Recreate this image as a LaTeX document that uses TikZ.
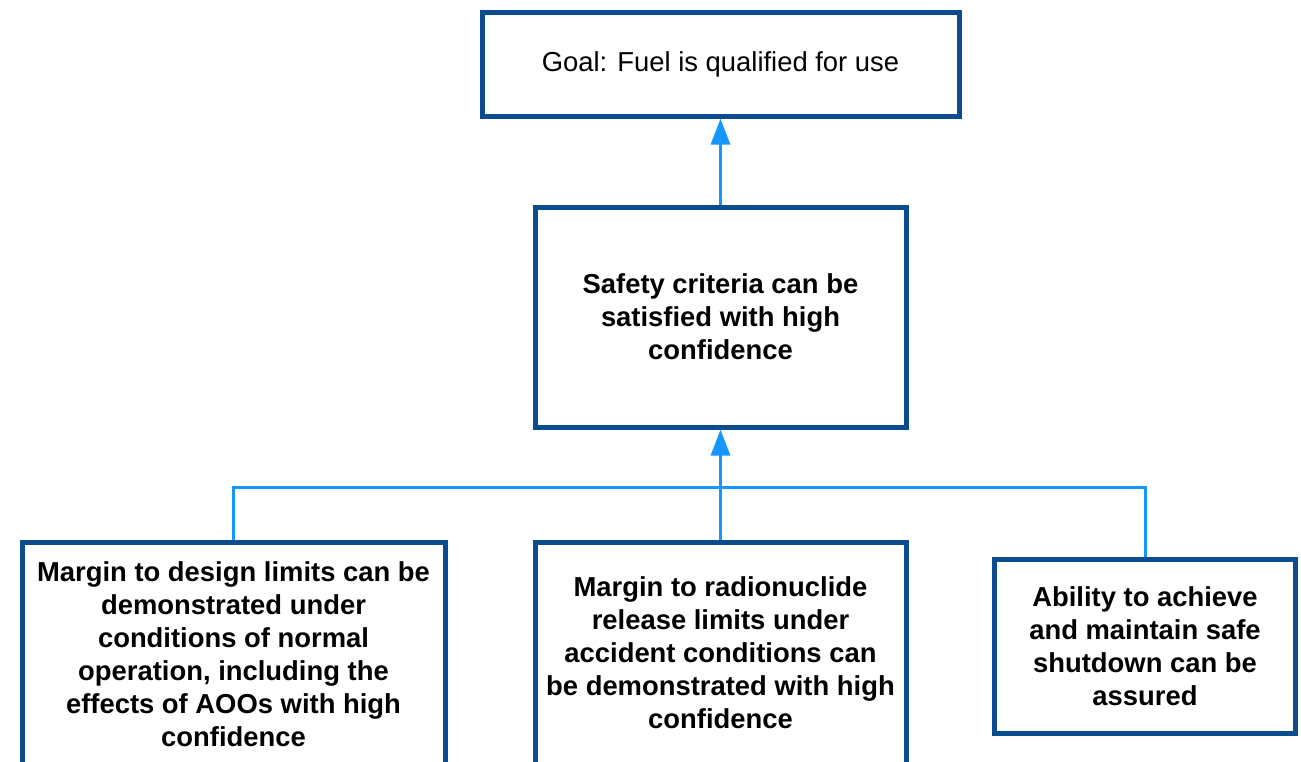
\documentclass[tikz,border=0pt]{standalone}
\usepackage{fontspec}
\setmainfont{Liberation Sans}
\usetikzlibrary{arrows.meta}
\definecolor{boxline}{RGB}{10,76,142}
\definecolor{linkline}{RGB}{22,150,255}

\begin{document}
\begin{tikzpicture}[x=1pt, y=-1pt]
            \tikzstyle{every node} = [align=center, inner sep=0pt, font=\fontsize{27.4}{33}\selectfont]
            \tikzstyle{claimbox} = [draw=boxline, line width=5pt, fill=white, rectangle]
            \tikzstyle{link} = [draw=linkline, line width=3pt]
            \tikzstyle{uplink} = [link, -{Triangle[length=26pt, width=19pt]}, linkline]

            \useasboundingbox[fill=white] (0, 0) rectangle (1301, 761);
            \clip (0, 0) rectangle (1301, 761);

            % top goal
            \node[claimbox, minimum width=477pt, minimum height=104pt] (goal) at (720.5, 64)
                {Goal: Fuel is qualified for use};
            \node[claimbox, minimum width=371pt, minimum height=220pt, font=\fontsize{27.4}{33}\selectfont\bfseries] (safety) at (720.5, 317)
                {Safety criteria can be\\ satisfied with high\\ confidence};

            % the three sub claims
            \node[claimbox, minimum width=423pt, minimum height=224pt, font=\fontsize{27.4}{33}\selectfont\bfseries] (design) at (233.5, 654)
                {Margin to design limits can be\\ demonstrated under\\ conditions of normal\\ operation, including the\\ effects of AOOs with high\\ confidence};
            \node[claimbox, minimum width=371pt, minimum height=222pt, font=\fontsize{27.4}{33}\selectfont\bfseries] (release) at (720.5, 653)
                {Margin to radionuclide\\ release limits under\\ accident conditions can\\ be demonstrated with high\\ confidence};
            \node[claimbox, minimum width=301pt, minimum height=174pt, font=\fontsize{27.4}{33}\selectfont\bfseries] (shutdown) at (1145, 646)
                {Ability to achieve\\ and maintain safe\\ shutdown can be\\ assured};

            \coordinate (bus) at (720.5, 487);

            \draw[uplink] (safety.north) -- (goal.south);
            \draw[uplink] (release.north) -- (safety.south);
            \draw[link] (design.north) |- (bus) -| (shutdown.north);
        \end{tikzpicture}
\end{document}
